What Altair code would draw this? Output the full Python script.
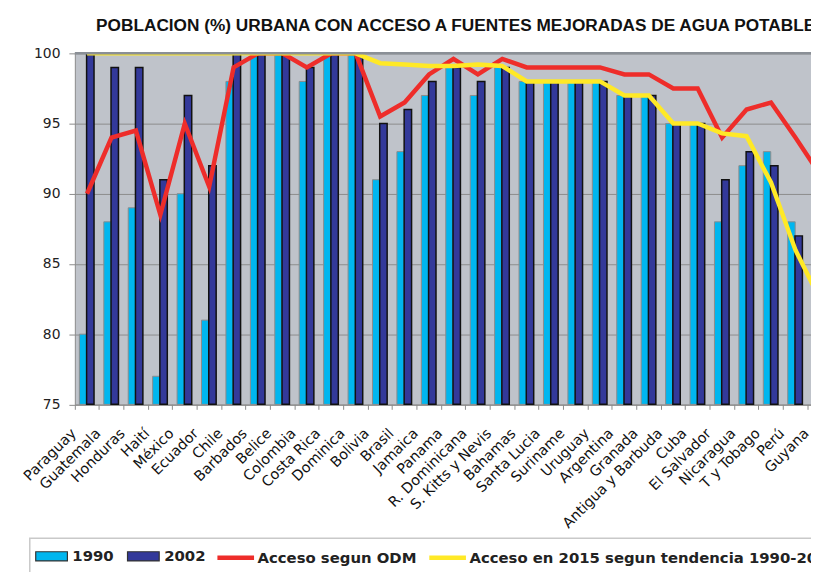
import altair as alt
import pandas as pd

paises = ["Paraguay", "Guatemala", "Honduras", "Haití", "México", "Ecuador", "Chile",
          "Barbados", "Belice", "Colombia", "Costa Rica", "Dominica", "Bolivia", "Brasil",
          "Jamaica", "Panama", "R. Dominicana", "S. Kitts y Nevis", "Bahamas", "Santa Lucia",
          "Suriname", "Uruguay", "Argentina", "Granada", "Antigua y Barbuda", "Cuba",
          "El Salvador", "Nicaragua", "T y Tobago", "Perú", "Guyana"]
v1990 = [80, 88, 89, 77, 90, 81, 98, 100, 100, 98, 100, 100, 91, 93, 97, 99, 97, 99, 98, 98,
         98, 98, 97, 97, 95, 95, 88, 92, 93, 88, 83]
v2002 = [100, 99, 99, 91, 97, 92, 100, 100, 100, 99, 100, 100, 95, 96, 98, 99, 98, 99, 98, 98,
         98, 98, 97, 97, 95, 95, 91, 93, 92, 87, 83]
odm = [90, 94, 94.5, 88.5, 95, 90.5, 99, 100, 100, 99, 100, 100, 95.5, 96.5, 98.5, 99.6, 98.5,
       99.6, 99, 99, 99, 99, 98.5, 98.5, 97.5, 97.5, 94, 96, 96.5, 94, 91.4]
tend2015 = [100, 100, 100, 100, 100, 100, 100, 100, 100, 100, 100, 100, 99.3, 99.2, 99.1, 99.1,
            99.2, 99.1, 98, 98, 98, 98, 97, 97, 95, 95, 94.3, 94.1, 90.8, 86, 82.5]
series_barras = ["1990", "2002"]
series_lineas = ["Acceso segun ODM", "Acceso en 2015 segun tendencia 1990-2002"]
titulo = "POBLACION (%) URBANA CON ACCESO A FUENTES MEJORADAS DE AGUA POTABLE"

n = len(paises)
bars_df = pd.DataFrame({
    "pais": paises * 2,
    "serie": [series_barras[0]] * n + [series_barras[1]] * n,
    "valor": v1990 + v2002,
})
lines_df = pd.DataFrame({
    "pais": paises * 2,
    "linea": [series_lineas[0]] * n + [series_lineas[1]] * n,
    "valor": odm + tend2015,
})

STEP = 24.67
LEFT = 67.5
TOP = 43
W = STEP * n          # plot runs past the right edge of the page, as in the reference
H = 354.5
RIGHT = (819 - 8) - LEFT - W   # negative: the svg ends at the window edge

x_enc = alt.X(
    "pais:N", sort=paises,
    scale=alt.Scale(paddingInner=0, paddingOuter=0),
    axis=alt.Axis(title=None, labelAngle=-45, bandPosition=0, labelOffset=-18,
                  labelPadding=17, tickSize=5, tickColor="#8a8a8a", domainColor="#8a8a8a",
                  labelFont="DejaVu Sans", labelFontSize=14.5, labelColor="#111",
                  grid=False, labelOverlap=False, labelAlign="right", labelBaseline="top"),
)
y_enc = alt.Y(
    "valor:Q",
    scale=alt.Scale(domain=[75, 100], zero=False, nice=False),
    axis=alt.Axis(title=None, values=[75, 80, 85, 90, 95, 100], tickSize=6,
                  tickColor="#8a8a8a", domainColor="#8a8a8a", gridColor="#8d8d8d",
                  gridWidth=1, grid=True, labelFont="DejaVu Sans", labelFontSize=14,
                  labelColor="#222", labelPadding=9),
)

fill_enc = alt.Fill(
    "serie:N",
    scale=alt.Scale(domain=series_barras, range=["#00B6EF", "#33399A"]),
    legend=alt.Legend(title=None, orient="none", legendX=35 - 75.5, legendY=491,
                      direction="horizontal", symbolType="M-1,-0.29H1V0.29H-1Z",
                      symbolSize=1024, symbolStrokeColor="#333", symbolStrokeWidth=1.2,
                      labelFont="DejaVu Sans", labelFontSize=15, labelFontWeight="bold",
                      labelColor="#222", labelOffset=4, columnPadding=10.7),
)
stroke_enc = alt.Stroke(
    "linea:N",
    scale=alt.Scale(domain=series_lineas, range=["#EE2D2A", "#FFE926"]),
    legend=alt.Legend(title=None, orient="none", legendX=217 - 75.5, legendY=488.5,
                      direction="horizontal", symbolType="stroke", symbolSize=1369,
                      symbolStrokeWidth=4.5, labelFont="DejaVu Sans", labelFontSize=15,
                      labelFontWeight="bold", labelColor="#222", labelOffset=1,
                      columnPadding=3, labelLimit=1000),
)

box = alt.Chart(alt.Data(values=[{}])).mark_rect(
    fill="white", stroke="#C9C9C9", strokeWidth=1.5
).encode(x=alt.value(30 - 75.5), x2=alt.value(1000), y=alt.value(540.7 - 51), y2=alt.value(800))

base_b = alt.Chart(bars_df)
b1990 = base_b.transform_filter(alt.datum.serie == "1990").mark_bar(
    width=7.5, xOffset=-4, stroke="#8c8c8c", strokeWidth=1
).encode(x=x_enc, y=y_enc, y2=alt.datum(75), fill=fill_enc)
b2002 = base_b.transform_filter(alt.datum.serie == "2002").mark_bar(
    width=7.5, xOffset=3.3, stroke="#111", strokeWidth=1.5
).encode(x=x_enc, y=y_enc, y2=alt.datum(75), fill=fill_enc)

base_l = alt.Chart(lines_df)
l_odm = base_l.transform_filter(alt.datum.linea == series_lineas[0]).mark_line(
    strokeWidth=4.5, clip=True
).encode(x=x_enc, y=y_enc, stroke=stroke_enc)
l_tend = base_l.transform_filter(alt.datum.linea == series_lineas[1]).mark_line(
    strokeWidth=4.5, clip=True
).encode(x=x_enc, y=y_enc, stroke=stroke_enc)

top_rule = alt.Chart(alt.Data(values=[{}])).mark_rule(color="#8A8F96", strokeWidth=2.5).encode(
    y=alt.datum(100)
)

chart = alt.layer(box, b1990, b2002, l_odm, l_tend, top_rule).properties(
    width=W, height=H,
    autosize=alt.AutoSizeParams(type="none"),
    padding={"left": LEFT, "top": TOP, "right": RIGHT, "bottom": 572 - 8 - TOP - H},
    background="white",
    title=alt.TitleParams(titulo, anchor="start", frame="group", dx=21.5, offset=12,
                          font="Liberation Sans", fontSize=17.4, fontWeight="bold",
                          color="#111"),
).configure_view(fill="#BFC3CA", stroke="transparent")

chart.save("out.html", embed_options={"renderer": "svg", "actions": False})
